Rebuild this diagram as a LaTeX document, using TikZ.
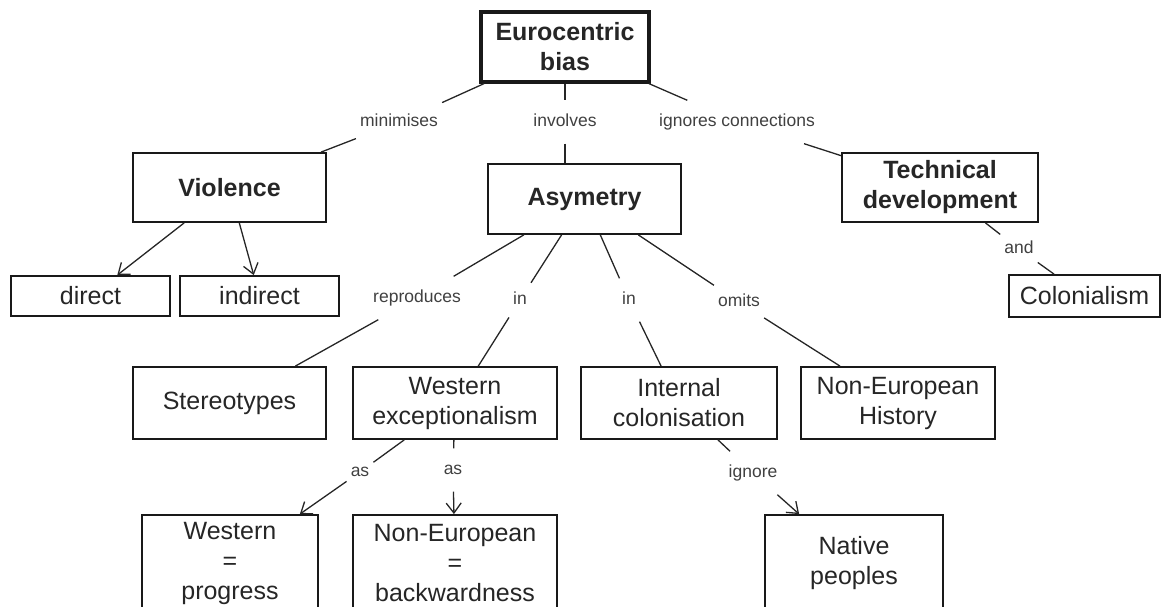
\documentclass[tikz,border=0pt]{standalone}
\usepackage{fontspec}
\setmainfont{Liberation Sans}
\usetikzlibrary{arrows.meta}
\tikzset{
 box/.style={draw=black!90, line width=1.8pt, align=center, text=black!85, font=\fontsize{25}{30}\selectfont, inner sep=0pt},
 mainbox/.style={box, line width=3.2pt},
 boldtext/.style={font=\fontsize{25}{30}\selectfont\bfseries},
 lbl/.style={text=black!75, font=\fontsize{17.5}{20}\selectfont, inner xsep=4pt, inner ysep=13pt, text height=13pt, text depth=4pt},
 link/.style={draw=black!85, line width=1.3pt},
 arr/.style={link, -{Straight Barb[length=10pt,width=15pt]}},
}
\begin{document}
\begin{tikzpicture}[x=1pt,y=-1pt]
\clip (0,0) rectangle (1162,607);
% boxes
\node[mainbox, boldtext, minimum width=168pt, minimum height=70pt] (euro) at (565,47) {Eurocentric\\bias};
\node[box, boldtext, minimum width=193pt, minimum height=69pt] (viol) at (229.5,187.5) {Violence};
\node[box, boldtext, minimum width=193pt, minimum height=70pt] (asym) at (584.5,199) {Asymetry};
\node[box, boldtext, minimum width=196pt, minimum height=69pt] (tech) at (940,187.5) {Technical\\development};
\node[box, minimum width=159pt, minimum height=40pt] (direct) at (90.5,296) {direct};
\node[box, minimum width=159pt, minimum height=40pt] (indirect) at (259.5,296) {indirect};
\node[box, minimum width=151pt, minimum height=42pt] (colon) at (1084.5,296) {Colonialism};
\node[box, minimum width=193pt, minimum height=72pt] (stereo) at (229.5,403) {Stereotypes};
\node[box, minimum width=204pt, minimum height=72pt] (wexc) at (455,403) {Western\\exceptionalism};
\node[box, minimum width=196pt, minimum height=72pt] (intcol) at (679,403) {Internal\\colonisation};
\node[box, minimum width=194pt, minimum height=72pt] (nehist) at (898,403) {Non-European\\History};
\node[box, minimum width=176pt, minimum height=96pt] (progress) at (230,563) {Western\\=\\progress};
\node[box, minimum width=204pt, minimum height=96pt] (backw) at (455,563) {Non-European\\=\\backwardness};
\node[box, minimum width=178pt, minimum height=96pt] (native) at (854,563) {Native\\peoples};
% labels
\node[lbl] (lmin) at (399,122) {minimises};
\node[lbl] (linv) at (565,122) {involves};
\node[lbl] (lign) at (737,122) {ignores connections};
\node[lbl] (land) at (1019,249) {and};
\node[lbl] (lrep) at (417,298) {reproduces};
\node[lbl] (lin1) at (520,300) {in};
\node[lbl] (lin2) at (629,300) {in};
\node[lbl] (lomit) at (739,302) {omits};
\node[lbl] (las1) at (360,472) {as};
\node[lbl] (las2) at (453,470) {as};
\node[lbl] (lignore) at (753,473) {ignore};
% connectors
\draw[link] (euro) -- (lmin);
\draw[link] (lmin) -- (viol);
\draw[link] (euro) -- (linv);
\draw[link] (linv) -- (asym.north -| linv);
\draw[link] (euro) -- (lign);
\draw[link] (lign) -- (tech);
\draw[link] (tech) -- (land);
\draw[link] (land) -- (colon);
\draw[arr] (viol) -- (direct);
\draw[arr] (viol) -- (indirect);
\draw[link] (asym) -- (lrep);
\draw[link] (lrep) -- (stereo);
\draw[link] (asym) -- (lin1);
\draw[link] (lin1) -- (wexc);
\draw[link] (asym) -- (lin2);
\draw[link] (lin2) -- (intcol);
\draw[link] (asym) -- (lomit);
\draw[link] (lomit) -- (nehist);
\draw[link] (wexc) -- (las1);
\draw[arr] (las1) -- (progress);
\draw[link] (wexc) -- (las2);
\draw[arr] (las2) -- (backw);
\draw[link] (intcol) -- (lignore);
\draw[arr] (lignore) -- (native);
\end{tikzpicture}
\end{document}
